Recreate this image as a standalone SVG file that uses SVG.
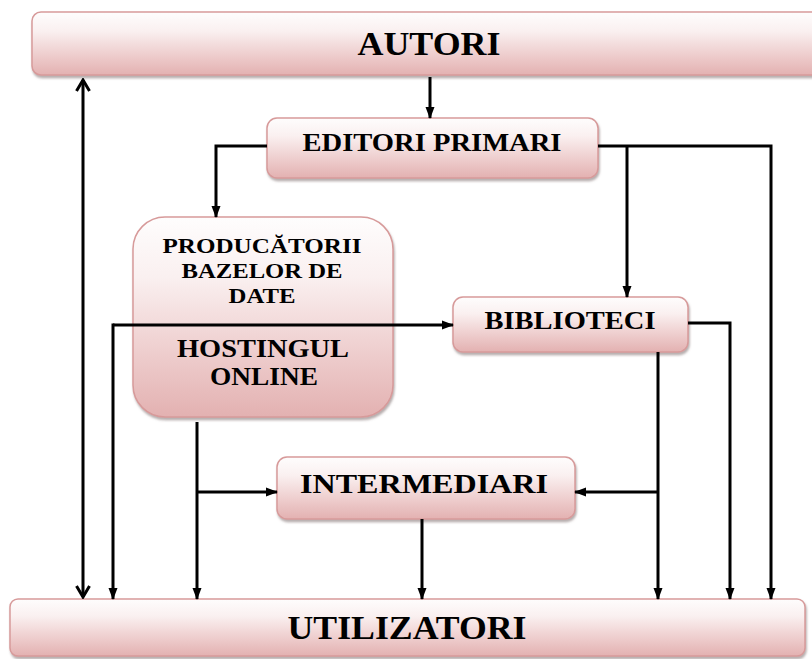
<svg xmlns="http://www.w3.org/2000/svg" width="812" height="659" viewBox="0 0 812 659">
  <defs>
    <linearGradient id="g" x1="0" y1="0" x2="0" y2="1">
      <stop offset="0" stop-color="#fefdfd"/>
      <stop offset="0.3" stop-color="#faf0f0"/>
      <stop offset="0.65" stop-color="#efd0d0"/>
      <stop offset="1" stop-color="#e3b1b1"/>
    </linearGradient>
    <filter id="sh" x="-5%" y="-10%" width="110%" height="130%">
      <feDropShadow dx="1" dy="2.5" stdDeviation="1" flood-color="#7a6a6a" flood-opacity="0.55"/>
    </filter>
    <marker id="ah" markerUnits="userSpaceOnUse" markerWidth="12" markerHeight="12" viewBox="0 0 12 12" refX="11" refY="6" orient="auto">
      <path d="M0 1.5 L12 6 L0 10.5 Z" fill="#000"/>
    </marker>
    <marker id="open" markerUnits="userSpaceOnUse" markerWidth="16" markerHeight="16" viewBox="0 0 16 16" refX="14" refY="8" orient="auto-start-reverse">
      <path d="M3 1.5 L14 8 L3 14.5" fill="none" stroke="#000" stroke-width="3"/>
    </marker>
  </defs>
  <style>
    .box { fill: url(#g); stroke: #d79a9a; stroke-width: 1.5; filter: url(#sh); }
    .t { font-family: "Liberation Serif", "Times New Roman", serif; font-weight: bold; fill: #000; text-anchor: middle; }
    .c { fill: none; stroke: #000; stroke-width: 3; }
    .a { marker-end: url(#ah); }
  </style>

  <g id="autori">
    <rect class="box" x="32" y="12" width="800" height="63" rx="9"/>
    <text class="t" x="429" y="55" font-size="34" textLength="143" lengthAdjust="spacingAndGlyphs">AUTORI</text>
  </g>

  <g id="editori">
    <rect class="box" x="267" y="118" width="331" height="60" rx="10"/>
    <text class="t" x="432" y="151" font-size="25" textLength="259" lengthAdjust="spacingAndGlyphs">EDITORI PRIMARI</text>
  </g>

  <g id="producatorii">
    <rect class="box" x="133" y="217" width="260" height="200" rx="32"/>
    <text class="t" x="262" y="253" font-size="22" textLength="199" lengthAdjust="spacingAndGlyphs">PRODUCĂTORII</text>
    <text class="t" x="262" y="278" font-size="22" textLength="161" lengthAdjust="spacingAndGlyphs">BAZELOR DE</text>
    <text class="t" x="262" y="303" font-size="22" textLength="67" lengthAdjust="spacingAndGlyphs">DATE</text>
    <text class="t" x="263" y="357" font-size="25" textLength="172" lengthAdjust="spacingAndGlyphs">HOSTINGUL</text>
    <text class="t" x="264" y="385" font-size="25" textLength="108" lengthAdjust="spacingAndGlyphs">ONLINE</text>
  </g>

  <g id="biblioteci">
    <rect class="box" x="453" y="297" width="235" height="55" rx="10"/>
    <text class="t" x="570" y="329" font-size="26" textLength="171" lengthAdjust="spacingAndGlyphs">BIBLIOTECI</text>
  </g>

  <g id="intermediari">
    <rect class="box" x="277" y="457" width="298" height="62" rx="10"/>
    <text class="t" x="424" y="493" font-size="28" textLength="248" lengthAdjust="spacingAndGlyphs">INTERMEDIARI</text>
  </g>

  <g id="utilizatori">
    <rect class="box" x="10" y="599" width="795" height="57" rx="8"/>
    <text class="t" x="407" y="639" font-size="34" textLength="239" lengthAdjust="spacingAndGlyphs">UTILIZATORI</text>
  </g>

  <g id="connectors">
    <path class="c a" d="M430 77 V118"/>
    <path class="c" d="M83 80 V597" marker-start="url(#open)" marker-end="url(#open)"/>
    <path class="c a" d="M267 146 H216 V217"/>
    <path class="c a" d="M598 146 H771 V599"/>
    <path class="c a" d="M627 146 V297"/>
    <path class="c a" d="M113 325 H453"/>
    <path class="c a" d="M113 323.5 V599"/>
    <path class="c a" d="M688 323 H730 V599"/>
    <path class="c a" d="M658 352 V599"/>
    <path class="c a" d="M658 492 H575"/>
    <path class="c a" d="M197 422 V599"/>
    <path class="c a" d="M197 492 H277"/>
    <path class="c a" d="M422 519 V599"/>
  </g>
</svg>
